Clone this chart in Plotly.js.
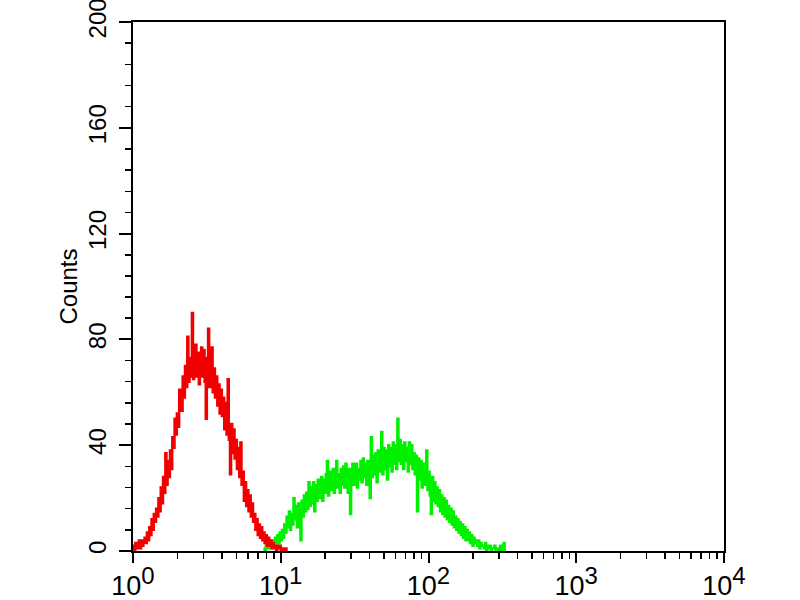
<!DOCTYPE html>
<html>
<head>
<meta charset="utf-8">
<script src="https://cdn.plot.ly/plotly-3.0.1.min.js"></script>
<style>html,body{margin:0;padding:0;background:#fff;}#chart{width:800px;height:600px;}</style>
</head>
<body>
<div id="chart"></div>
<script>
// Histogram channels: 128 channels per decade on a 4-decade log scale
const channelsPerDecade = 128;

// Red (control) histogram, counts from channel 0
const redStart = 0;
const redCounts = [
  2,0,3,1,2,4,1,4,2,3,
  5,3,7,4,9,6,12,8,14,11,
  16,13,20,15,24,18,28,22,37,25,
  34,28,38,31,43,39,50,44,52,47,
  61,55,53,66,58,70,62,81,64,73,
  66,90,65,76,78,66,75,63,74,77,
  66,76,64,50,73,84,62,72,77,60,
  69,58,66,55,63,52,61,51,58,46,
  56,44,65,42,29,48,37,46,35,42,
  31,39,28,41,25,30,19,26,17,23,
  15,21,13,18,11,14,8,12,6,10,
  5,9,4,7,3,6,2,5,2,4,
  1,3,1,2,0,2,1,2,0,1,
  1,0,1,0,0
];

// Green (antibody) histogram, counts from channel 113
const greenStart = 113;
const greenCounts = [
  1,0,3,1,2,4,1,2,4,2,
  5,2,6,3,7,4,8,5,10,7,
  13,9,15,8,14,10,20,12,17,9,
  18,12,4,19,13,21,15,22,16,26,
  17,24,18,26,15,25,19,27,20,26,
  28,19,27,22,29,34,21,30,23,28,
  31,22,30,34,24,29,22,31,25,32,
  24,33,27,22,31,14,29,33,25,30,
  33,24,31,27,34,26,35,28,33,25,
  34,27,20,43,28,36,29,37,26,38,
  30,36,45,29,39,31,38,27,40,32,
  39,30,41,33,40,31,50,34,42,33,
  40,31,41,34,39,30,41,33,40,31,
  37,29,36,15,35,27,34,24,33,25,
  31,38,23,30,21,14,28,19,26,18,
  24,17,23,15,21,14,20,13,19,12,
  17,11,16,10,15,9,13,8,12,7,
  11,6,10,5,9,4,8,4,7,3,
  6,2,5,3,4,2,4,1,3,2,
  2,1,3,0,2,1,2,0,1,1,
  2,0,1,1,0,2,0,1,3,0
];

// Axis ticks
const xTickVals = [1, 10, 100, 1000, 10000];
const xExponents = ['0', '1', '2', '3', '4'];
const yTickVals = [0, 40, 80, 120, 160, 200];
const yTickText = ['0', '40', '80', '120', '160', '200'];

function channelX(start, n) {
  const xs = [];
  for (let i = 0; i < n; i++) xs.push(Math.pow(10, (start + i) / channelsPerDecade));
  return xs;
}

const traces = [
  {
    x: channelX(greenStart, greenCounts.length), y: greenCounts,
    type: 'scatter', mode: 'lines',
    line: {color: '#00f000', width: 2.4, shape: 'hv'},
    hoverinfo: 'skip'
  },
  {
    x: channelX(redStart, redCounts.length), y: redCounts,
    type: 'scatter', mode: 'lines',
    line: {color: '#f00000', width: 2.4, shape: 'hv'},
    hoverinfo: 'skip'
  }
];

const font = {family: '"Liberation Sans", Arial, sans-serif', color: '#000'};

const layout = {
  width: 800, height: 600,
  margin: {l: 133, r: 76, t: 22, b: 49},
  paper_bgcolor: '#fff', plot_bgcolor: '#fff',
  showlegend: false,
  font: font,
  xaxis: {
    type: 'log', range: [0, 4],
    tickmode: 'array', tickvals: xTickVals,
    ticktext: xExponents.map(e => '10<sup><span style="font-size:24px">' + e + '</span></sup>'),
    ticks: 'outside', ticklen: 10, tickwidth: 2, tickcolor: '#000',
    minor: {ticks: 'outside', ticklen: 6, tickwidth: 1.5, tickcolor: '#000', dtick: 'D1', showgrid: false},
    showline: true, linecolor: '#000', linewidth: 2, mirror: true,
    showgrid: false, zeroline: false,
    ticklabeloverflow: 'allow',
    tickfont: {family: font.family, size: 27, color: '#000'},
    fixedrange: true
  },
  yaxis: {
    range: [0, 200],
    tickmode: 'array', tickvals: yTickVals, ticktext: yTickText,
    tickangle: -90,
    ticks: 'outside', ticklen: 12, tickwidth: 2, tickcolor: '#000',
    minor: {ticks: 'outside', ticklen: 6, tickwidth: 1.5, tickcolor: '#000', dtick: 8, tick0: 0, showgrid: false},
    showline: true, linecolor: '#000', linewidth: 2, mirror: true,
    showgrid: false, zeroline: false,
    ticklabelstandoff: 3,
    ticklabeloverflow: 'allow',
    tickfont: {family: font.family, size: 24, color: '#000'},
    title: {text: 'Counts', font: {family: font.family, size: 24, color: '#000'}, standoff: 0},
    fixedrange: true
  }
};

Plotly.newPlot('chart', traces, layout, {staticPlot: true, displayModeBar: false});
</script>
</body>
</html>
